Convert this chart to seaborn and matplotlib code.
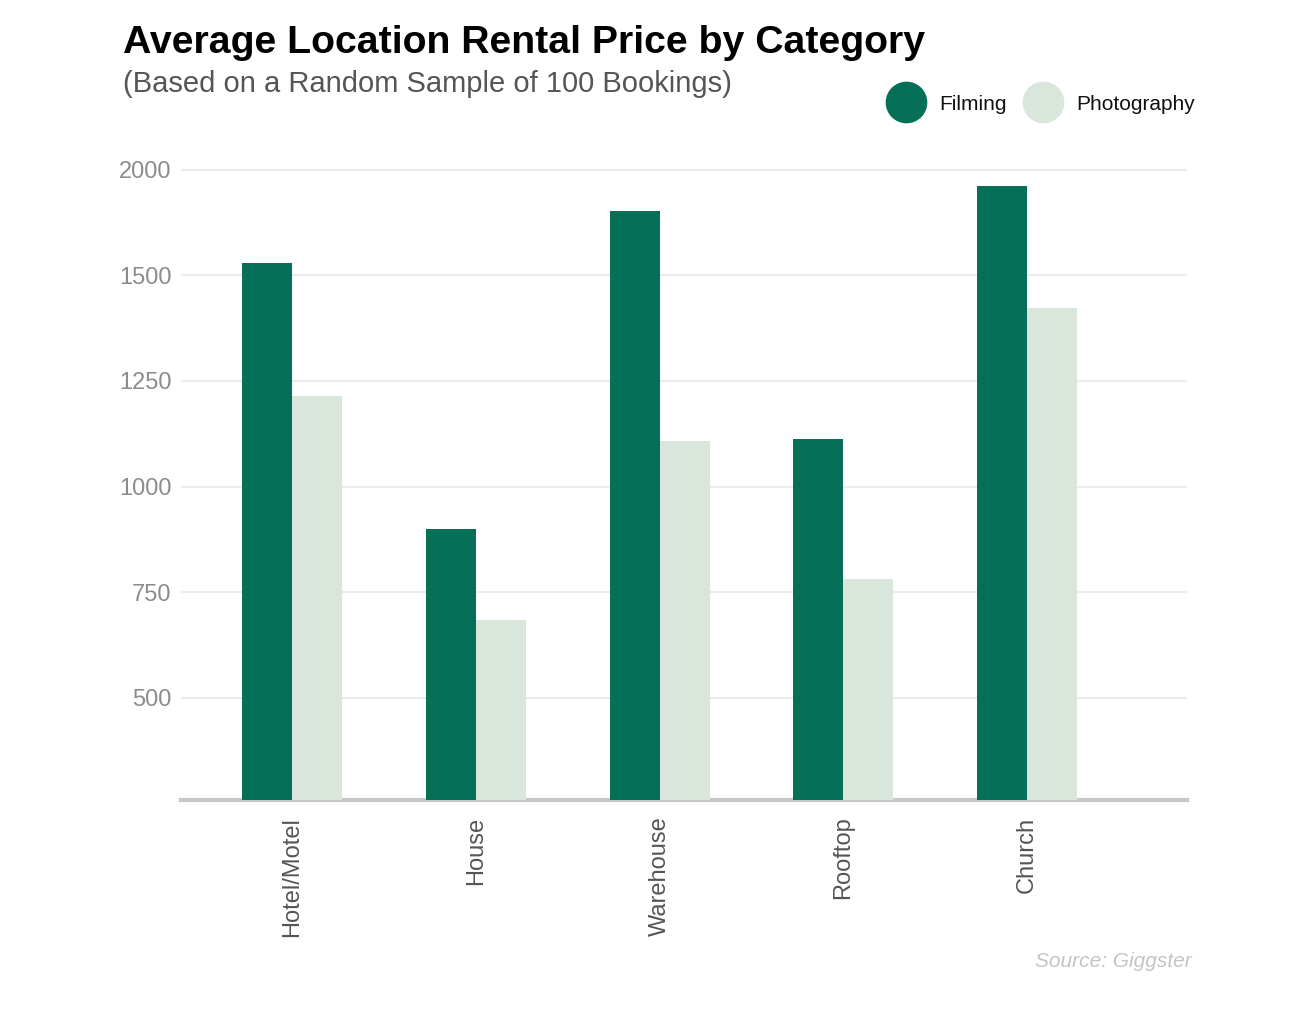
import matplotlib
matplotlib.use("Agg")
import matplotlib.pyplot as plt
import seaborn as sns
import pandas as pd
from matplotlib.lines import Line2D

categories = ["Hotel/Motel", "House", "Warehouse", "Rooftop", "Church"]
filming = [1530, 900, 1653, 1113, 1712]
photography = [1215, 685, 1108, 782, 1423]
series_names = ["Filming", "Photography"]
tick_values = [500, 750, 1000, 1250, 1500, 1750]
tick_labels = ["500", "750", "1000", "1250", "1500", "2000"]

colors = {"Filming": "#066f57", "Photography": "#d8e6dc"}

df = pd.DataFrame({
    "Category": categories * 2,
    "Series": [series_names[0]] * len(categories) + [series_names[1]] * len(categories),
    "Price": filming + photography,
})

sns.set_theme(style="white")
plt.rcParams["font.family"] = ["Liberation Sans", "DejaVu Sans"]

fig = plt.figure(figsize=(13.15, 10.13), dpi=100)
ax = fig.add_axes([181 / 1315, 1 - 800 / 1013, (1187 - 181) / 1315, (800 - 160) / 1013])

sns.barplot(data=df, x="Category", y="Price", hue="Series", order=categories,
            hue_order=series_names, palette=colors, width=0.544, saturation=1,
            ax=ax, legend=False, zorder=3, linewidth=0, edgecolor="none")

ax.set_ylim(258, 1773)
ax.set_xlim(-0.604, 4.87)
ax.set_yticks(tick_values)
ax.set_yticklabels(tick_labels, color="#8c8c8c", fontsize=17)
ax.yaxis.grid(True, color="#ebebeb", linewidth=1.5, zorder=0)
ax.set_axisbelow(True)
ax.tick_params(axis="y", length=0, pad=7)
ax.tick_params(axis="x", length=0, pad=12)
for lbl in ax.get_xticklabels():
    lbl.set_rotation(90)
    lbl.set_fontsize(17)
    lbl.set_color("#555555")
ax.set_xlabel("")
ax.set_ylabel("")
for s in ["top", "right", "left"]:
    ax.spines[s].set_visible(False)
ax.spines["bottom"].set_color("#c8c8c8")
ax.spines["bottom"].set_linewidth(3)

fig.text(123 / 1315, 1 - 43 / 1013, "Average Location Rental Price by Category",
         fontsize=28.3, fontweight="bold", color="black", va="center", ha="left")
fig.text(123 / 1315, 1 - 84 / 1013, "(Based on a Random Sample of 100 Bookings)",
         fontsize=21, color="#555555", va="center", ha="left")
fig.text(1192 / 1315, 1 - 961 / 1013, "Source: Giggster", fontsize=15,
         style="italic", color="#c4c4c4", ha="right", va="center")

handles = [Line2D([0], [0], marker="o", linestyle="", markersize=29,
                  markerfacecolor=colors[n], markeredgecolor=colors[n]) for n in series_names]
fig.legend(handles, series_names, loc="center right", bbox_to_anchor=(1203 / 1315, 1 - 104 / 1013),
           ncol=2, frameon=False, fontsize=15, handletextpad=0.59, columnspacing=0.72,
           handlelength=2.0, borderaxespad=0, labelcolor="#111111")

fig.savefig("out.png", dpi=100)
